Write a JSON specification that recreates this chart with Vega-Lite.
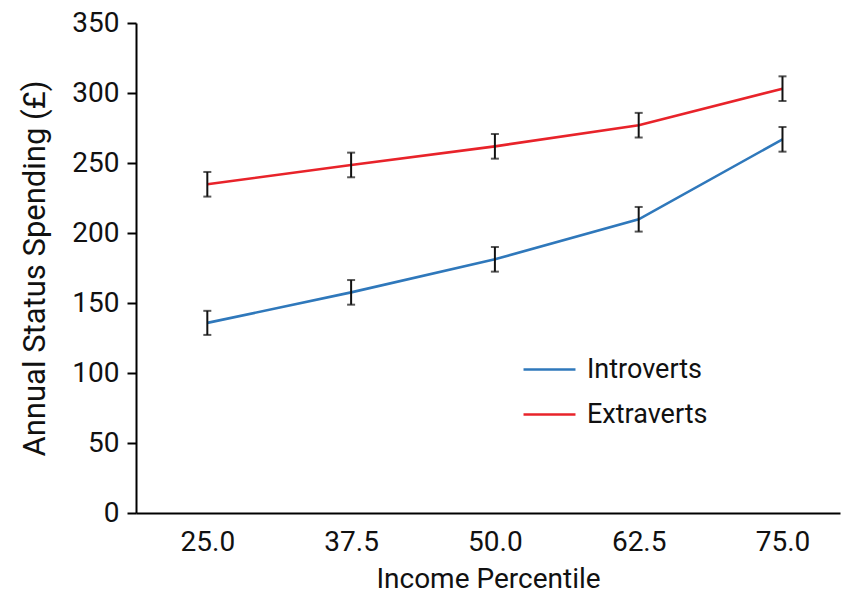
{
  "$schema": "https://vega.github.io/schema/vega-lite/v6.json",
  "autosize": "none",
  "width": 704,
  "height": 490,
  "padding": {"left": 136, "top": 23, "right": 1, "bottom": 81},
  "background": "white",
  "config": {
    "font": "Roboto, sans-serif",
    "view": {"stroke": null}
  },
  "data": {
    "values": [
      {"income": 25.0, "group": "Introverts", "mean": 135.8, "lo": 127.2, "hi": 144.4},
      {"income": 37.5, "group": "Introverts", "mean": 157.6, "lo": 148.8, "hi": 166.4},
      {"income": 50.0, "group": "Introverts", "mean": 181.2, "lo": 172.4, "hi": 190.0},
      {"income": 62.5, "group": "Introverts", "mean": 209.8, "lo": 201.0, "hi": 218.6},
      {"income": 75.0, "group": "Introverts", "mean": 266.9, "lo": 258.1, "hi": 275.7},
      {"income": 25.0, "group": "Extraverts", "mean": 234.8, "lo": 226.0, "hi": 243.6},
      {"income": 37.5, "group": "Extraverts", "mean": 248.6, "lo": 239.8, "hi": 257.4},
      {"income": 50.0, "group": "Extraverts", "mean": 261.9, "lo": 253.1, "hi": 270.7},
      {"income": 62.5, "group": "Extraverts", "mean": 277.0, "lo": 268.2, "hi": 285.8},
      {"income": 75.0, "group": "Extraverts", "mean": 303.1, "lo": 294.3, "hi": 311.9}
    ]
  },
  "encoding": {
    "x": {
      "field": "income",
      "type": "quantitative",
      "scale": {"domain": [18.8, 80], "nice": false, "zero": false},
      "axis": {
        "title": "Income Percentile",
        "values": [25, 37.5, 50, 62.5, 75],
        "format": ".1f",
        "ticks": false,
        "grid": false,
        "domainColor": "#000000",
        "domainWidth": 2,
        "labelFontSize": 28,
        "labelColor": "#111111",
        "labelPadding": 15,
        "titleFontSize": 28,
        "titleFontWeight": "normal",
        "titleColor": "#111111",
        "titlePadding": 9
      }
    }
  },
  "layer": [
    {
      "mark": {"type": "line", "strokeWidth": 2.6},
      "encoding": {
        "y": {
          "field": "mean",
          "type": "quantitative",
          "scale": {"domain": [0, 350], "nice": false},
          "axis": {
            "title": "Annual Status Spending (£)",
            "values": [0, 50, 100, 150, 200, 250, 300, 350],
            "grid": false,
            "domainColor": "#000000",
            "domainWidth": 2,
            "tickColor": "#000000",
            "tickWidth": 2,
            "tickSize": 9,
            "labelFontSize": 28,
            "labelColor": "#111111",
            "labelPadding": 8,
            "titleFontSize": 31,
            "titleFontWeight": "normal",
            "titleColor": "#111111",
            "titlePadding": 20
          }
        },
        "color": {
          "field": "group",
          "type": "nominal",
          "scale": {"domain": ["Introverts", "Extraverts"], "range": ["#2f78bb", "#e8232a"]},
          "legend": {
            "title": null,
            "orient": "none",
            "legendX": 386,
            "legendY": 319,
            "symbolType": "stroke",
            "symbolSize": 2700,
            "symbolStrokeWidth": 2.6,
            "labelFontSize": 27,
            "labelColor": "#111111",
            "labelOffset": 10,
            "rowPadding": 4,
            "labelLimit": 300
          }
        }
      }
    },
    {
      "mark": {"type": "rule", "color": "#111111", "strokeWidth": 2},
      "encoding": {
        "y": {"field": "lo", "type": "quantitative"},
        "y2": {"field": "hi"}
      }
    },
    {
      "mark": {"type": "tick", "orient": "horizontal", "color": "#111111", "size": 8, "thickness": 2},
      "encoding": {"y": {"field": "lo", "type": "quantitative"}}
    },
    {
      "mark": {"type": "tick", "orient": "horizontal", "color": "#111111", "size": 8, "thickness": 2},
      "encoding": {"y": {"field": "hi", "type": "quantitative"}}
    }
  ]
}
